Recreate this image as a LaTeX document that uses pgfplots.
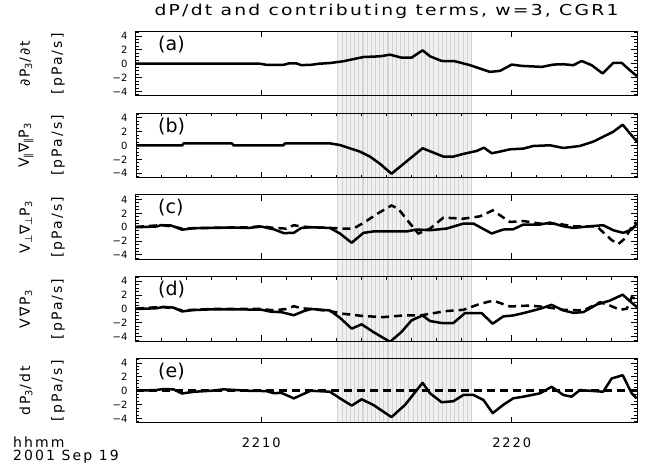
\documentclass[border=0pt]{standalone}
\usepackage{pgfplots}
\pgfplotsset{compat=1.18}
\usepackage{fontspec}
\setmainfont{DejaVu Sans}
\newfontfamily\idl[LetterSpace=15]{DejaVu Sans}
\newfontfamily\idlt[LetterSpace=15, FakeStretch=1.25]{DejaVu Sans}
\pgfplotsset{
  panel/.style={scale only axis, width=501pt, height=64.5pt,
    xmin=5, xmax=25, ymin=-4.65, ymax=4.65,
    xtick={10,20}, minor xtick={}, xticklabels={},
    ytick={-4,-2,0,2,4}, yticklabels={−4,−2,0,2,4},
    minor ytick={-4.5,-4,...,4.5},
    tick pos=both, tick align=inside,
    major tick length=6pt, minor tick length=3pt,
    axis line style={line width=1pt},
    every tick/.style={line width=1pt, black},
    yticklabel style={font=\fontsize{10}{10}\selectfont, xshift=-5pt},
    clip mode=individual, anchor=south west,
  },
  mx/.style={minor xtick={5,6,...,25}},
  ovl/.style={scale only axis, width=501pt, height=64.5pt, anchor=south west,
    xmin=5, xmax=25, ymin=0, ymax=1, axis y line=none,
    xtick=\empty, minor xtick={5,6,...,25}, xticklabels={},
    tick align=inside, minor tick length=3pt,
    every tick/.style={line width=1pt, black}, axis line style={draw=none}},
  ln/.style={black, line width=2.5pt, mark=none, solid, line join=round},
  dsh/.style={black, line width=2.5pt, mark=none, dash pattern=on 8pt off 5pt},
}
\newcommand{\ylab}[2]{%
  \node[rotate=90, font=\idl\fontsize{14}{14}\selectfont] at ([xshift=-110pt]rel axis cs:0,0.5) {#1};
  \node[rotate=90, font=\idl\fontsize{14}{14}\selectfont] at ([xshift=-78pt]rel axis cs:0,0.5) {[pPa/s]};
  \node[anchor=west, font=\fontsize{19}{19}\selectfont, inner sep=0pt] at ([xshift=22pt,yshift=-13pt]rel axis cs:0,1) {#2};
}
\begin{document}
\begin{tikzpicture}
\useasboundingbox (0,0) rectangle (657pt,473pt);
% background stripes (interval)
\begin{axis}[scale only axis, width=501pt, height=391pt, at={(136pt,50pt)}, anchor=south west,
  xmin=5, xmax=25, ymin=0, ymax=1, hide axis]
\addplot[fill=gray!12, draw=none, mark=none] coordinates {(13.06,1) (18.41,1)} \closedcycle;
\addplot[ycomb, draw=gray!35, line width=1.1pt, mark=none] coordinates {
(13.06,1)(13.23,1)(13.39,1)(13.56,1)(13.73,1)(13.89,1)(14.06,1)(14.23,1)(14.39,1)(14.56,1)
(14.73,1)(14.89,1)(15.06,1)(15.23,1)(15.39,1)(15.56,1)(15.73,1)(15.89,1)(16.06,1)(16.23,1)
(16.39,1)(16.56,1)(16.73,1)(16.89,1)(17.06,1)(17.23,1)(17.39,1)(17.56,1)(17.73,1)(17.89,1)
(18.06,1)(18.23,1)(18.39,1)};
\end{axis}
% (a)
\begin{axis}[panel, at={(136pt,377pt)},
  title={dP/dt and contributing terms, w=3, CGR1},
  title style={font=\idlt\fontsize{15}{15}\selectfont, at={(0.5,1)}, anchor=base, yshift=10pt}]
\addplot[ln] coordinates {(5,0)(9.0,0.02)(9.95,0)(10.2,-0.15)(10.9,-0.15)(11.1,0.05)(11.4,0.05)(11.6,-0.2)(12.0,-0.15)(12.3,0)(12.74,0.1)(13.28,0.36)(14.08,0.97)(14.74,1.07)(15.14,1.31)(15.6,0.88)(16.0,0.88)(16.44,1.93)(16.74,1.07)(17.2,0.4)(17.73,0.36)(18.33,-0.2)(18.73,-0.69)(19.13,-1.17)(19.53,-1.03)(20.0,-0.12)(20.4,-0.31)(21.2,-0.45)(21.66,-0.12)(22.06,-0.07)(22.46,-0.21)(22.79,0.4)(23.19,-0.21)(23.63,-1.4)(24.05,0.12)(24.39,0.12)(24.79,-1.17)(25.0,-1.79)};
\ylab{∂P\textsubscript{3}/∂t}{(a)}
\end{axis}
\begin{axis}[ovl, at={(136pt,377pt)}, axis x line*=top]
\end{axis}
% (b)
\begin{axis}[panel, mx, at={(136pt,295.25pt)}]
\addplot[ln] coordinates {(5,0)(6.84,0)(6.9,0.3)(8.83,0.3)(8.9,0)(10.87,0)(10.95,0.3)(12.74,0.31)(13.14,0.07)(13.94,-0.88)(14.34,-1.6)(14.74,-2.64)(15.2,-4.07)(15.8,-2.3)(16.44,-0.4)(16.87,-1.02)(17.27,-1.6)(17.67,-1.6)(18.07,-1.21)(18.6,-0.79)(18.89,-0.31)(19.2,-1.12)(19.53,-0.88)(19.93,-0.55)(20.46,-0.45)(20.86,-0.07)(21.53,0.03)(22.06,-0.36)(22.72,-0.07)(23.25,0.55)(23.65,1.26)(24.05,1.98)(24.43,3.0)(24.72,1.74)(25.0,0.55)};
\ylab{V\textsubscript{∥}∇\textsubscript{∥}P\textsubscript{3}}{(b)}
\end{axis}
% (c)
\begin{axis}[panel, at={(136pt,213.5pt)}]
\addplot[ln] coordinates {(5,0)(5.8,0.1)(6.0,0.3)(6.4,0.25)(6.84,-0.35)(7.3,-0.15)(8.0,-0.1)(8.8,-0.05)(9.5,-0.1)(10.0,0.1)(10.5,-0.3)(10.9,-0.85)(11.3,-0.8)(11.6,-0.1)(12.0,0)(12.74,-0.1)(13.14,-0.9)(13.61,-2.24)(14.08,-0.81)(14.47,-0.61)(15.8,-0.61)(16.2,-0.33)(16.74,-0.43)(17.4,-0.19)(18.07,0.53)(18.47,0.53)(19.2,-0.9)(19.66,-0.33)(20.06,-0.29)(20.46,0.39)(21.13,0.39)(21.53,0.67)(22.06,0.14)(22.46,-0.1)(23.12,0.14)(23.65,0.29)(24.05,-0.43)(24.45,-0.81)(24.79,-0.33)(25.0,0.53)};
\addplot[dsh] coordinates {(5,0.05)(6.0,0.3)(6.5,0.1)(6.84,-0.2)(7.5,-0.1)(9.5,0)(10.0,0.15)(10.5,-0.1)(11.0,-0.2)(11.3,0.3)(11.6,0.1)(12.0,0)(12.74,-0.1)(13.28,-0.19)(13.68,-0.19)(14.08,0.62)(14.68,2.05)(15.2,3.14)(15.47,2.67)(15.94,0.53)(16.27,-0.9)(16.74,-0.19)(17.27,1.38)(18.07,1.24)(18.73,1.57)(19.24,2.43)(19.93,0.76)(20.46,0.9)(21.13,0.53)(21.8,0.53)(22.46,0.14)(23.39,0.14)(23.99,-1.86)(24.25,-2.43)(24.52,-1.62)(24.79,0.04)(24.97,0.76)};
\ylab{V\textsubscript{⊥}∇\textsubscript{⊥}P\textsubscript{3}}{(c)}
\end{axis}
% (d)
\begin{axis}[panel, mx, at={(136pt,131.75pt)}]
\addplot[ln] coordinates {(5,0)(5.8,0.1)(6.1,0.3)(6.5,0.2)(6.84,-0.35)(7.3,-0.15)(8.0,-0.05)(9.0,-0.05)(10.0,-0.1)(10.4,-0.4)(10.8,-0.45)(11.3,-0.9)(11.7,-0.3)(12.0,0)(12.74,-0.21)(13.14,-1.26)(13.61,-2.83)(14.01,-2.21)(14.47,-3.31)(15.14,-4.74)(15.6,-3.31)(16.0,-1.64)(16.44,-0.93)(16.74,-1.74)(17.2,-2.02)(17.67,-2.02)(18.13,-0.6)(18.8,-0.6)(19.24,-2.12)(19.66,-1.07)(20.06,-0.93)(20.46,-0.6)(21.13,0.03)(21.59,0.6)(22.06,-0.21)(22.46,-0.55)(22.86,-0.45)(23.39,0.64)(23.92,1.21)(24.43,2.07)(24.69,1.21)(25.0,0.26)};
\addplot[dsh] coordinates {(5,0.05)(6.0,0.3)(6.5,0.1)(6.84,-0.2)(8.0,0)(10.0,0)(10.5,-0.2)(11.0,0)(11.3,0.4)(11.6,0.1)(12.0,0)(12.74,-0.3)(13.28,-0.69)(14.08,-1.02)(14.88,-1.17)(15.68,-0.93)(16.35,-0.93)(16.74,-0.69)(17.34,-0.31)(18.07,-0.12)(18.73,0.74)(19.26,1.21)(19.93,0.36)(20.73,0.5)(21.4,0.26)(22.06,-0.12)(22.86,-0.21)(23.52,0.98)(23.92,0.5)(24.32,-0.12)(24.59,0.03)(24.79,1.69)(24.99,1.45)};
\ylab{V∇P\textsubscript{3}}{(d)}
\end{axis}
% (e)
\begin{axis}[panel, at={(136pt,50pt)},
  xticklabels={2210,2220},
  xticklabel style={font=\idl\fontsize{13}{13}\selectfont, anchor=base, yshift=-25pt}]
\addplot[ln] coordinates {(5,0)(5.8,0.1)(6.1,0.25)(6.5,0.2)(6.84,-0.4)(7.3,-0.15)(8.0,0)(8.5,0.2)(9.0,0.1)(9.5,0)(10.2,-0.05)(10.5,-0.35)(10.8,-0.3)(11.3,-1.1)(11.97,0)(12.74,-0.14)(13.14,-1.09)(13.61,-2.14)(14.01,-1.23)(14.47,-2.04)(15.2,-3.8)(15.74,-2.04)(16.44,1.14)(16.74,-0.37)(17.2,-1.66)(17.67,-1.51)(18.07,-0.61)(18.47,-0.61)(18.87,-1.33)(19.24,-3.23)(19.66,-2.04)(20.06,-1.09)(20.46,-0.86)(21.13,-0.37)(21.59,0.57)(22.06,-0.61)(22.39,-0.86)(22.72,0.1)(23.65,-0.14)(23.99,1.77)(24.43,2.24)(24.79,-0.37)(24.99,-1.09)};
\addplot[dsh] coordinates {(5,0)(25,0)};
\ylab{dP\textsubscript{3}/dt}{(e)}
\end{axis}
\begin{axis}[ovl, at={(136pt,50pt)}, axis x line*=bottom]
\end{axis}
\node[anchor=west, font=\idl\fontsize{14}{14}\selectfont, inner sep=0pt] at (13pt,31pt) {hhmm};
\node[anchor=west, font=\idl\fontsize{14}{14}\selectfont, inner sep=0pt] at (13pt,16pt) {2001 Sep 19};
\end{tikzpicture}
\end{document}
